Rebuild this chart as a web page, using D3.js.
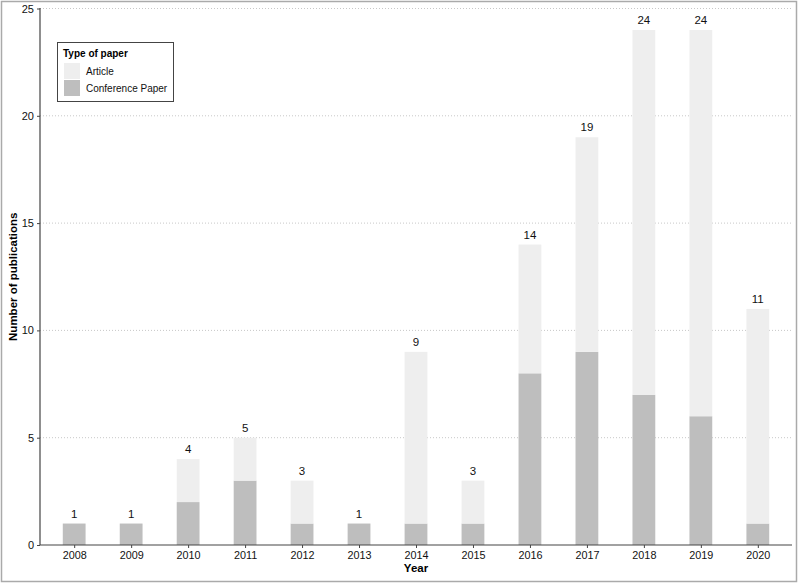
<!DOCTYPE html>
<html><head><meta charset="utf-8">
<script src="https://cdn.jsdelivr.net/npm/d3@7"></script>
<style>body{margin:0;background:#fff}svg{display:block}text{font-family:"Liberation Sans",Arial,sans-serif}</style>
</head><body>
<svg id="c" width="800" height="583"></svg>
<script>
const years = ["2008","2009","2010","2011","2012","2013","2014","2015","2016","2017","2018","2019","2020"];
const conference = [1,1,2,3,1,1,1,1,8,9,7,6,1];
const article = [0,0,2,2,2,0,8,2,6,10,17,18,10];
const totals = [1,1,4,5,3,1,9,3,14,19,24,24,11];
const yTicks = [0,5,10,15,20,25];
const seriesNames = ["Article","Conference Paper"];
const colors = {"Article":"#eeeeee","Conference Paper":"#bebebe"};

const svg = d3.select("#c");
const W = 800, H = 583;
const x0 = 40, x1 = 792, y0 = 545, y1 = 8.5;

svg.append("rect").attr("x",1.5).attr("y",1.5).attr("width",W-5).attr("height",H-3)
  .attr("fill","#fff").attr("stroke","#aaaaaa").attr("stroke-width",1.5);

const n = years.length;
const step = (x1 - x0) / (n - 1 + 1.2);
const x = d3.scalePoint().domain(years).range([x0 + 0.6*step, x1 - 0.6*step]);
const bw = step * 0.4;
const y = d3.scaleLinear().domain([0,25]).range([y0,y1]);

// grid
svg.append("g").selectAll("line").data(yTicks.filter(d=>d>0)).join("line")
  .attr("x1",x0).attr("x2",x1).attr("y1",d=>y(d)).attr("y2",d=>y(d))
  .attr("stroke","#c8c8c8").attr("stroke-width",1).attr("stroke-dasharray","1,2");

const rows = years.map((yr,i)=>({year:yr,"Conference Paper":conference[i],"Article":article[i]}));
const layers = d3.stack().keys(["Conference Paper","Article"])(rows);
svg.append("g").selectAll("g").data(layers).join("g")
  .attr("fill",d=>colors[d.key])
  .selectAll("rect").data(d=>d.filter(p=>p[1]>p[0])).join("rect")
  .attr("x",d=>x(d.data.year)-bw/2).attr("width",bw)
  .attr("y",d=>y(d[1])).attr("height",d=>y(d[0])-y(d[1]));

// value labels
svg.append("g").selectAll("text").data(years).join("text")
  .attr("x",d=>x(d)).attr("y",(d,i)=>y(totals[i])-6)
  .attr("text-anchor","middle").attr("font-size","11.5px").attr("fill","#111")
  .text((d,i)=>totals[i]);

// axes
const yAxis = d3.axisLeft(y).tickValues(yTicks).tickSize(3).tickPadding(3);
const gy = svg.append("g").attr("transform",`translate(${x0},0)`).call(yAxis);
gy.select(".domain").attr("stroke","#444").attr("stroke-width",1.2).attr("d",`M-0,${y1-0.5}V${y0}`);
gy.selectAll(".tick line").attr("stroke","#444");
gy.selectAll(".tick text").attr("font-size","11px").attr("fill","#111").attr("font-family","Liberation Sans, Arial, sans-serif");

const xAxis = d3.axisBottom(x).tickSize(3).tickPadding(3);
const gx = svg.append("g").attr("transform",`translate(0,${y0})`).call(xAxis);
gx.select(".domain").attr("stroke","#444").attr("stroke-width",1.2).attr("d",`M${x0},0H${x1}`);
gx.selectAll(".tick line").attr("stroke","#444");
gx.selectAll(".tick text").attr("font-size","10.8px").attr("fill","#111").attr("font-family","Liberation Sans, Arial, sans-serif");

// axis titles
svg.append("text").attr("x",(x0+x1)/2).attr("y",572).attr("text-anchor","middle")
  .attr("font-size","11.5px").attr("font-weight","bold").text("Year");
svg.append("text").attr("transform",`translate(17,${(y0+y1)/2}) rotate(-90)`).attr("text-anchor","middle")
  .attr("font-size","11.5px").attr("font-weight","bold").text("Number of publications");

// legend
const lg = svg.append("g");
lg.append("rect").attr("x",57.5).attr("y",42.5).attr("width",116).attr("height",59)
  .attr("fill","#fff").attr("stroke","#444").attr("stroke-width",1);
lg.append("text").attr("x",63).attr("y",57).attr("font-size","10px").attr("font-weight","bold").text("Type of paper");
seriesNames.forEach((s,i)=>{
  lg.append("rect").attr("x",64).attr("y",63+i*17).attr("width",16).attr("height",16).attr("fill",colors[s]);
  lg.append("text").attr("x",86).attr("y",75+i*17).attr("font-size","10px").attr("fill","#111").text(s);
});
</script>
</body></html>
